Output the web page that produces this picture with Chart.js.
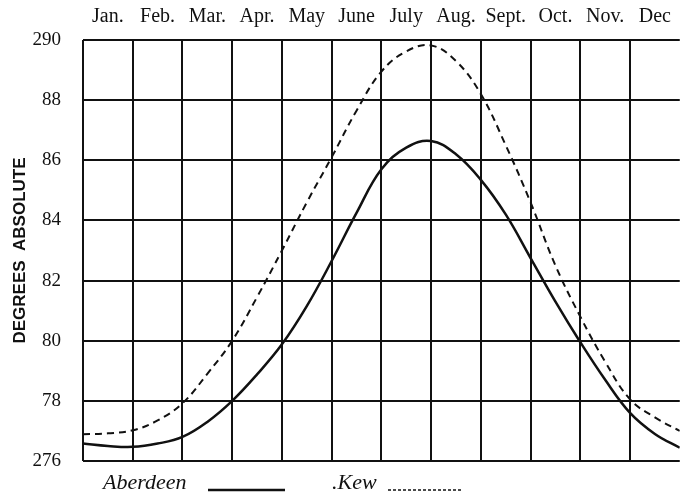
<!DOCTYPE html>
<html>
<head>
<meta charset="utf-8">
<script src="https://cdn.jsdelivr.net/npm/chart.js@4.4.1/dist/chart.umd.min.js"></script>
<style>
html, body { margin: 0; padding: 0; background: #fff; }
#wrap { position: relative; width: 682px; height: 498px; }
</style>
</head>
<body>
<div id="wrap"><canvas id="tempChart"></canvas></div>
<script>
var months = ['Jan.', 'Feb.', 'Mar.', 'Apr.', 'May', 'June', 'July', 'Aug.', 'Sept.', 'Oct.', 'Nov.', 'Dec'];

// position in months (0 = start of Jan, 12 = end of Dec), read every half month
var monthPos = [0, 0.5, 1, 1.5, 2, 2.5, 3, 3.5, 4, 4.5, 5, 5.5, 6, 6.5, 7, 7.5, 8, 8.5, 9, 9.5, 10, 10.5, 11, 11.5, 12];

var aberdeen = [276.58, 276.5, 276.47, 276.58, 276.8, 277.3, 278.0, 278.88, 279.88, 281.15, 282.65, 284.25, 285.7,
    286.42, 286.64, 286.2, 285.35, 284.2, 282.75, 281.3, 279.95, 278.7, 277.6, 276.9, 276.44];

var kew = [276.89, 276.92, 277.02, 277.35, 277.92, 278.9, 280.0, 281.45, 283.0, 284.6, 286.1, 287.65, 288.95,
    289.62, 289.82, 289.3, 288.2, 286.5, 284.6, 282.5, 280.8, 279.3, 278.05, 277.45, 277.0];

var yTicks = [276, 278, 280, 282, 284, 286, 288, 290];
var yTickLabels = ['276', '78', '80', '82', '84', '86', '88', '290'];

function points(values) {
    return values.map(function (v, i) { return { x: monthPos[i], y: v }; });
}

var ink = '#111';

// legend drawn under the plot, text first then the line sample
var bottomLegend = {
    id: 'bottomLegend',
    afterDraw: function (chart) {
        var ctx = chart.ctx;
        var ds = chart.data.datasets;
        ctx.save();
        ctx.fillStyle = ink;
        ctx.font = 'italic 22px "Liberation Serif"';
        ctx.textBaseline = 'alphabetic';
        ctx.fillText(ds[0].label, 103, 489);
        ctx.fillText('.' + ds[1].label, 332, 489);

        ctx.strokeStyle = ink;
        ctx.lineWidth = 2.5;
        ctx.beginPath();
        ctx.moveTo(208, 490);
        ctx.lineTo(285, 490);
        ctx.stroke();

        ctx.lineWidth = 1.5;
        ctx.setLineDash([3, 2]);
        ctx.beginPath();
        ctx.moveTo(388, 490);
        ctx.lineTo(463, 490);
        ctx.stroke();
        ctx.restore();
    }
};

var ctxTemp = document.getElementById('tempChart').getContext('2d');
var tempChart = new Chart(ctxTemp, {
    type: 'line',
    data: {
        datasets: [{
            label: 'Aberdeen',
            data: points(aberdeen),
            borderColor: ink,
            borderWidth: 2.5,
            pointRadius: 0,
            tension: 0.4,
            xAxisID: 'x'
        }, {
            label: 'Kew',
            data: points(kew),
            borderColor: ink,
            borderWidth: 2,
            borderDash: [7, 5],
            pointRadius: 0,
            tension: 0.4,
            xAxisID: 'x'
        }]
    },
    options: {
        responsive: true,
        maintainAspectRatio: false,
        animation: false,
        layout: { padding: 0 },
        plugins: {
            legend: { display: false },
            tooltip: { enabled: false }
        },
        scales: {
            x: {
                type: 'linear',
                position: 'bottom',
                min: 0,
                max: 12,
                ticks: { display: false, stepSize: 1 },
                grid: {
                    color: function (c) { return c.tick && c.tick.value === 12 ? 'rgba(0,0,0,0)' : ink; },
                    lineWidth: 2,
                    drawTicks: false
                },
                border: { display: false },
                afterFit: function (scale) { scale.height = 37; }
            },
            xTop: {
                type: 'category',
                labels: months,
                position: 'top',
                offset: true,
                grid: { display: false, drawTicks: false },
                border: { display: false },
                ticks: {
                    color: ink,
                    padding: 11,
                    maxRotation: 0,
                    autoSkip: false,
                    font: { family: '"Liberation Serif"', size: 20 }
                },
                afterFit: function (scale) { scale.height = 40; }
            },
            y: {
                min: 276,
                max: 290,
                ticks: {
                    stepSize: 2,
                    color: ink,
                    padding: 22,
                    font: { family: '"Liberation Serif"', size: 19 },
                    callback: function (value) {
                        var i = yTicks.indexOf(value);
                        return i >= 0 ? yTickLabels[i] : '';
                    }
                },
                grid: { color: ink, lineWidth: 2, drawTicks: false },
                border: { display: false },
                title: {
                    display: true,
                    text: 'DEGREES  ABSOLUTE',
                    color: ink,
                    padding: { top: 10, bottom: 0 },
                    font: { family: '"Liberation Sans"', size: 17, weight: 'bold' }
                },
                afterFit: function (scale) { scale.width = 83; }
            }
        }
    },
    plugins: [bottomLegend]
});
</script>
</body>
</html>
